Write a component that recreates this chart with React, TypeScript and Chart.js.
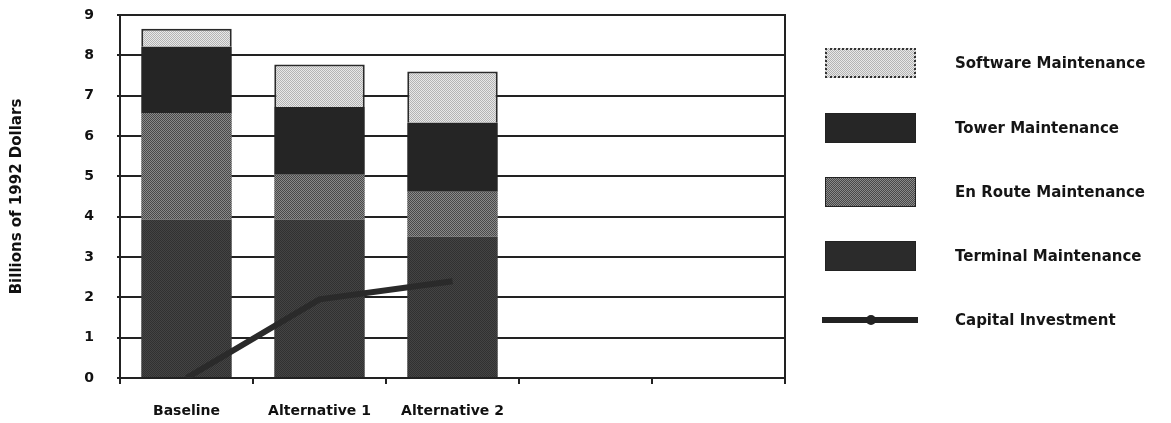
import React, { useEffect, useRef } from "react";
import { Chart, registerables } from "chart.js";

Chart.register(...registerables);

const categories = ["Baseline", "Alternative 1", "Alternative 2", "", ""];
const terminal = [3.93, 3.93, 3.5];
const enRoute = [2.64, 1.11, 1.12];
const tower = [1.64, 1.68, 1.71];
const software = [0.45, 1.05, 1.27];
const capital = [0, 1.95, 2.4];
const yTicks = [0, 1, 2, 3, 4, 5, 6, 7, 8, 9];

const FONT = "'DejaVu Sans', 'Liberation Sans', sans-serif";
const INK = "#222222";

function makePattern(c1: string, c2: string) {
  const pc = document.createElement("canvas");
  pc.width = 2;
  pc.height = 2;
  const g = pc.getContext("2d")!;
  g.fillStyle = c1;
  g.fillRect(0, 0, 2, 2);
  g.fillStyle = c2;
  g.fillRect(0, 0, 1, 1);
  g.fillRect(1, 1, 1, 1);
  const p = g.createPattern(pc, "repeat");
  return p as CanvasPattern;
}

const checker = (a: string, b: string) =>
  `repeating-conic-gradient(${a} 0 25%, ${b} 0 50%) 0 0 / 2px 2px`;

export default function App() {
  const ref = useRef<HTMLCanvasElement | null>(null);

  useEffect(() => {
    document.body.style.margin = "0";
    const canvas = ref.current!;
    const chart = new Chart(canvas, {
      type: "bar",
      data: {
        labels: categories,
        datasets: [
          {
            label: "Terminal Maintenance",
            data: terminal,
            backgroundColor: makePattern("#444444", "#313131"),
            borderWidth: 0,
            stack: "m",
            order: 1,
          },
          {
            label: "En Route Maintenance",
            data: enRoute,
            backgroundColor: makePattern("#8a8a8a", "#494949"),
            borderWidth: 0,
            stack: "m",
            order: 1,
          },
          {
            label: "Tower Maintenance",
            data: tower,
            backgroundColor: "#252525",
            borderWidth: 0,
            stack: "m",
            order: 1,
          },
          {
            label: "Software Maintenance",
            data: software,
            backgroundColor: makePattern("#e8e8e8", "#b4b4b4"),
            borderColor: "#2a2a2a",
            borderWidth: 2,
            stack: "m",
            order: 1,
          },
          {
            type: "line",
            label: "Capital Investment",
            data: capital,
            borderColor: "#2a2a2a",
            borderWidth: 6,
            pointRadius: 0,
            tension: 0,
            stack: "line",
            order: 0,
          } as any,
        ],
      },
      options: {
        responsive: false,
        animation: false,
        layout: { padding: { left: 0, right: 386, top: 15, bottom: 0 } },
        plugins: {
          legend: { display: false },
          tooltip: { enabled: false },
        },
        datasets: {
          bar: { barPercentage: 0.68, categoryPercentage: 1 },
        },
        scales: {
          x: {
            stacked: true,
            grid: {
              offset: true,
              drawOnChartArea: false,
              drawTicks: true,
              tickLength: 6,
              color: INK,
              lineWidth: 2,
            },
            border: { display: true, color: INK, width: 2 },
            ticks: {
              padding: 19,
              color: "#111",
              font: { family: FONT, size: 14, weight: "bold" },
            },
            afterFit: (s: any) => {
              s.height = 45;
            },
          },
          y: {
            stacked: true,
            min: 0,
            max: 9,
            afterBuildTicks: (s: any) => {
              s.ticks = yTicks.map((v) => ({ value: v }));
            },
            grid: {
              color: INK,
              lineWidth: 2,
              tickLength: 3,
            },
            border: { display: true, color: INK, width: 2 },
            ticks: {
              padding: 23,
              color: "#111",
              font: { family: FONT, size: 14, weight: "bold" },
            },
            title: {
              display: true,
              text: "Billions of 1992 Dollars",
              color: "#111",
              padding: { top: 8, bottom: 0 },
              font: { family: FONT, size: 15, weight: "bold" },
            },
            afterFit: (s: any) => {
              s.width = 120;
              s.paddingTop = 8;
              s.paddingBottom = 8;
            },
          },
          y2: {
            type: "linear",
            position: "right",
            display: true,
            grid: { drawOnChartArea: false, drawTicks: false },
            ticks: { display: false },
            border: { display: true, color: INK, width: 2 },
            afterFit: (s: any) => {
              s.width = 0;
              s.paddingTop = 0;
              s.paddingBottom = 0;
            },
          },
        },
      } as any,
    });
    return () => chart.destroy();
  }, []);

  const textStyle: React.CSSProperties = {
    position: "absolute",
    left: 955,
    fontFamily: FONT,
    fontWeight: "bold",
    fontSize: 15,
    color: "#151515",
    lineHeight: "18px",
    whiteSpace: "nowrap",
  };

  const legend = [
    { label: "Software Maintenance", top: 48, bg: checker("#b4b4b4", "#e8e8e8"), border: "2px dotted #333" },
    { label: "Tower Maintenance", top: 113, bg: "#262626", border: "1px solid #222" },
    { label: "En Route Maintenance", top: 177, bg: checker("#494949", "#8a8a8a"), border: "1px solid #222" },
    { label: "Terminal Maintenance", top: 241, bg: "#2b2b2b", border: "1px solid #222" },
  ];

  return (
    <div style={{ position: "relative", width: 1171, height: 423, background: "#fff" }}>
      <canvas ref={ref} width={1171} height={423} style={{ display: "block" }} />
      {legend.map((it) => (
        <React.Fragment key={it.label}>
          <div
            style={{
              position: "absolute",
              left: 825,
              top: it.top,
              width: 91,
              height: 30,
              boxSizing: "border-box",
              background: it.bg,
              border: it.border,
            }}
          />
          <div style={{ ...textStyle, top: it.top + 6 }}>{it.label}</div>
        </React.Fragment>
      ))}
      <div
        style={{
          position: "absolute",
          left: 822,
          top: 317,
          width: 96,
          height: 6,
          background: "#222",
        }}
      />
      <div
        style={{
          position: "absolute",
          left: 866,
          top: 315,
          width: 10,
          height: 10,
          borderRadius: "50%",
          background: "#222",
        }}
      />
      <div style={{ ...textStyle, top: 311 }}>Capital Investment</div>
    </div>
  );
}
